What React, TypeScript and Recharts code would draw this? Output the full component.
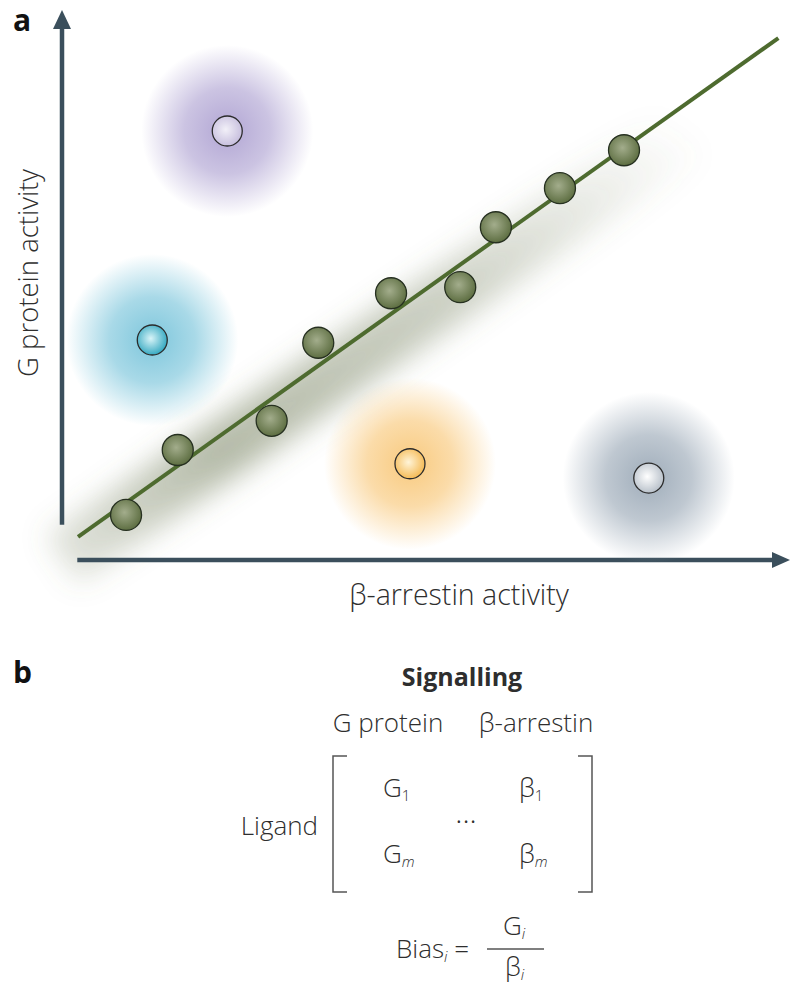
import React from "react";
import { ComposedChart, Scatter, Line, XAxis, YAxis, ReferenceLine } from "recharts";

// ligand measurements, 0–100 on both axes
const unbiased = [
  { x: 8.8, y: 8.2 },
  { x: 15.9, y: 20.0 },
  { x: 28.8, y: 25.3 },
  { x: 35.2, y: 39.5 },
  { x: 45.2, y: 48.5 },
  { x: 54.7, y: 49.6 },
  { x: 59.6, y: 60.5 },
  { x: 68.4, y: 67.6 },
  { x: 77.2, y: 74.5 },
];

const biasedNames = ["purple", "cyan", "orange", "grey"];
const biasedX = [22.7, 12.4, 47.8, 80.6];
const biasedY = [78.0, 40.0, 17.5, 14.9];
const biased = biasedNames.map((name, i) => ({ name, x: biasedX[i], y: biasedY[i] }));

const fitLine = [
  { x: 2.2, y: 4.2 },
  { x: 98.4, y: 94.9 },
];
const fitShadow = [
  { x: 0, y: 0 },
  { x: 86, y: 78 },
];

const TONES: Record<string, { glow: string; core: string; light: string }> = {
  purple: { glow: "#a99ccf", core: "#c4bbdc", light: "#f2f0f8" },
  cyan: { glow: "#6fc0d8", core: "#2aa3bd", light: "#d8f4f8" },
  orange: { glow: "#f8c470", core: "#f4b64c", light: "#fff4d8" },
  grey: { glow: "#94a3b2", core: "#b3bcc6", light: "#ffffff" },
};

const AXIS = "#3b4f5c";
const FONT = "'Open Sans', Lato, sans-serif";

function Glow(props: any) {
  const { cx, cy, payload } = props;
  return <circle cx={cx} cy={cy} r={86} fill={`url(#glow-${payload.name})`} />;
}

function BiasedDot(props: any) {
  const { cx, cy, payload } = props;
  return <circle cx={cx} cy={cy} r={15} fill={`url(#core-${payload.name})`} stroke="#2b2b2b" strokeWidth={1.3} />;
}

function GreenDot(props: any) {
  const { cx, cy } = props;
  return <circle cx={cx} cy={cy} r={15.5} fill="url(#green-ball)" stroke="#263020" strokeWidth={1.3} />;
}

function ArrowV(props: any) {
  const { x1, y1, x2, y2 } = props;
  return (
    <g>
      <line x1={x1} y1={y1} x2={x2} y2={y2 + 16} stroke={AXIS} strokeWidth={4.5} />
      <polygon points={`${x2},${y2} ${x2 - 9},${y2 + 19} ${x2 + 9},${y2 + 19}`} fill={AXIS} />
    </g>
  );
}

function ArrowH(props: any) {
  const { x1, y1, x2, y2 } = props;
  return (
    <g>
      <line x1={x1} y1={y1} x2={x2 - 16} y2={y2} stroke={AXIS} strokeWidth={4.5} />
      <polygon points={`${x2},${y2} ${x2 - 18},${y2 - 8} ${x2 - 18},${y2 + 8}`} fill={AXIS} />
    </g>
  );
}

function PartB() {
  const txt = { fontFamily: FONT, fill: "#2e2e2e", fontWeight: 300 } as const;
  const sub = { fontSize: 15, fontStyle: "italic" } as const;
  return (
    <svg width={791} height={988} style={{ position: "absolute", left: 0, top: 0, pointerEvents: "none" }}>
      <text x={13} y={31} fontFamily={FONT} fontWeight={700} fontSize={30} fill="#111">a</text>
      <text x={13} y={683} fontFamily={FONT} fontWeight={700} fontSize={30} fill="#111">b</text>
      <text {...txt} fontSize={27.5} transform="translate(38,273) rotate(-90)" textAnchor="middle">G protein activity</text>
      <text {...txt} fontSize={28.5} x={459} y={605} textAnchor="middle">β-arrestin activity</text>

      <text x={462} y={686} textAnchor="middle" fontFamily={FONT} fontWeight={700} fontSize={25} fill="#2e2e2e">Signalling</text>
      <text {...txt} fontSize={26} x={388} y={732} textAnchor="middle">G protein</text>
      <text {...txt} fontSize={26} x={536} y={732} textAnchor="middle">β-arrestin</text>

      <path d="M347,756 L333,756 L333,892 L347,892" fill="none" stroke="#555" strokeWidth={1.5} />
      <path d="M578,756 L592,756 L592,892 L578,892" fill="none" stroke="#555" strokeWidth={1.5} />

      <text {...txt} fontSize={26} x={318} y={835} textAnchor="end">Ligand</text>
      <text {...txt} fontSize={26} x={383} y={797}>G<tspan fontSize={15} dy={4}>1</tspan></text>
      <text {...txt} fontSize={26} x={519} y={797}>β<tspan fontSize={15} dy={4}>1</tspan></text>
      <text {...txt} fontSize={30} x={466} y={831} textAnchor="middle">···</text>
      <text {...txt} fontSize={26} x={383} y={863}>G<tspan {...sub} dy={4}>m</tspan></text>
      <text {...txt} fontSize={26} x={519} y={863}>β<tspan {...sub} dy={4}>m</tspan></text>

      <text {...txt} fontSize={26} x={396} y={958}>Bias<tspan {...sub} dy={4}>i</tspan><tspan dy={-4}> =</tspan></text>
      <text {...txt} fontSize={26} x={503} y={935}>G<tspan {...sub} dy={4}>i</tspan></text>
      <line x1={487} y1={949} x2={544} y2={949} stroke="#555" strokeWidth={1.3} />
      <text {...txt} fontSize={26} x={505} y={976}>β<tspan {...sub} dy={4}>i</tspan></text>
    </svg>
  );
}

export default function App() {
  return (
    <div style={{ position: "absolute", left: 0, top: 0, width: 791, height: 988, background: "#fff" }}>
      <ComposedChart width={791} height={610} margin={{ top: 10, right: 1, left: 62, bottom: 50 }}>
        <defs>
          {biasedNames.map((n) => (
            <radialGradient key={n} id={`glow-${n}`}>
              <stop offset="0%" stopColor={TONES[n].glow} stopOpacity={0.9} />
              <stop offset="50%" stopColor={TONES[n].glow} stopOpacity={0.6} />
              <stop offset="100%" stopColor={TONES[n].glow} stopOpacity={0} />
            </radialGradient>
          ))}
          {biasedNames.map((n) => (
            <radialGradient key={n} id={`core-${n}`} cx="45%" cy="45%" r="60%">
              <stop offset="0%" stopColor={TONES[n].light} />
              <stop offset="100%" stopColor={TONES[n].core} />
            </radialGradient>
          ))}
          <radialGradient id="green-ball" cx="45%" cy="42%" r="60%">
            <stop offset="0%" stopColor="#a3ad8c" />
            <stop offset="100%" stopColor="#5b6c3f" />
          </radialGradient>
          <linearGradient id="shadow-grad" x1="0" y1="1" x2="1" y2="0">
            <stop offset="0%" stopColor="#6b7752" stopOpacity={0.2} />
            <stop offset="25%" stopColor="#6b7752" stopOpacity={0.5} />
            <stop offset="60%" stopColor="#6b7752" stopOpacity={0.35} />
            <stop offset="100%" stopColor="#6b7752" stopOpacity={0} />
          </linearGradient>
          <filter id="blur" filterUnits="userSpaceOnUse" x={-200} y={-200} width={1200} height={1000}>
            <feGaussianBlur stdDeviation={14} />
          </filter>
        </defs>
        <XAxis type="number" dataKey="x" domain={[0, 100]} hide />
        <YAxis type="number" dataKey="y" domain={[0, 100]} hide />

        <Scatter data={biased} shape={Glow} isAnimationActive={false} />
        <Line
          data={fitShadow}
          dataKey="y"
          stroke="url(#shadow-grad)"
          strokeWidth={58}
          dot={false}
          filter="url(#blur)"
          isAnimationActive={false}
        />
        <Line data={fitLine} dataKey="y" stroke="#4e6b2f" strokeWidth={4} dot={false} isAnimationActive={false} />
        <Scatter data={unbiased} shape={GreenDot} isAnimationActive={false} />
        <Scatter data={biased} shape={BiasedDot} isAnimationActive={false} />

        <ReferenceLine segment={[{ x: 0, y: 6.4 }, { x: 0, y: 100 }]} shape={ArrowV} />
        <ReferenceLine segment={[{ x: 2.1, y: 0 }, { x: 100, y: 0 }]} shape={ArrowH} />
      </ComposedChart>
      <PartB />
    </div>
  );
}
